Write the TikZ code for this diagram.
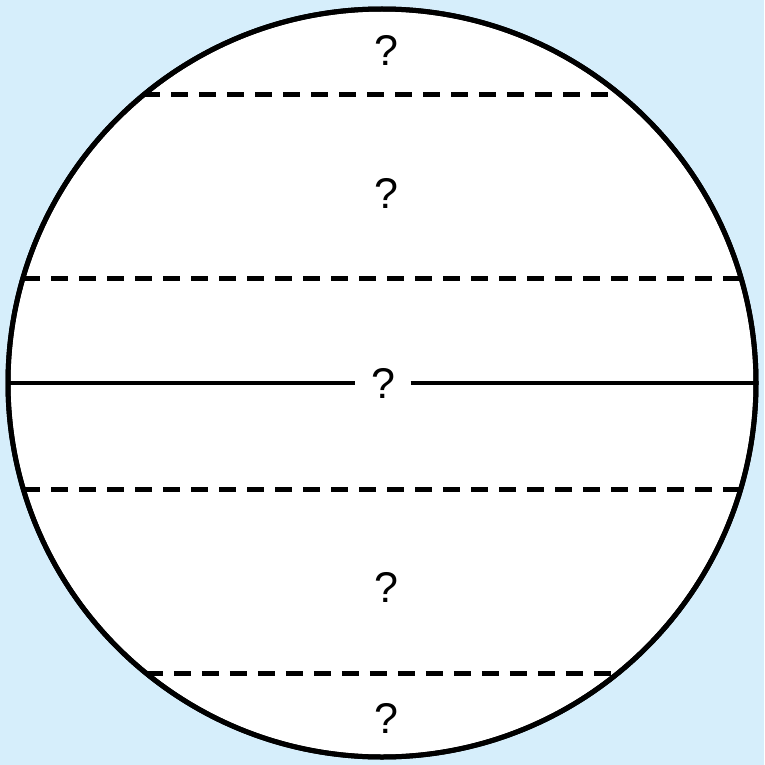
\documentclass[tikz,border=0pt]{standalone}
\usepackage{fontspec}
\setmainfont{Liberation Sans}
\definecolor{bgblue}{RGB}{214,238,251}
\begin{document}
\begin{tikzpicture}[x=1pt,y=-1pt,
  rim/.style={line width=5pt,draw=black,fill=white},
  dashline/.style={line width=5pt,dash pattern=on 17pt off 11pt},
  solidline/.style={line width=4.6pt},
  qmark/.style={font=\fontsize{43}{43}\selectfont,inner sep=0pt}]
\fill[bgblue] (0,0) rectangle (764,765);
\useasboundingbox (0,0) rectangle (764,765);
\coordinate (c) at (382,383);
\draw[rim] (c) circle (374);
\begin{scope}
\clip (c) circle (374);
\foreach \yy/\hw in {95/238.6,278/359.0,489/358.7,673/236.2}{
  \draw[dashline] ({382-\hw},\yy) -- ({382+\hw},\yy);
}
\end{scope}
\node[qmark] (q1) at (386,50) {?};
\node[qmark] (q2) at (386,193) {?};
\node[qmark,minimum width=55pt] (q3) at (383,383) {?};
\node[qmark] (q4) at (386,587) {?};
\node[qmark] (q5) at (386,718) {?};
\coordinate (L) at (8,383);
\coordinate (Rr) at (756,383);
\draw[solidline] (L) -- (q3.west);
\draw[solidline] (q3.east) -- (Rr);
\draw[line width=5pt] (c) circle (374);
\end{tikzpicture}
\end{document}
